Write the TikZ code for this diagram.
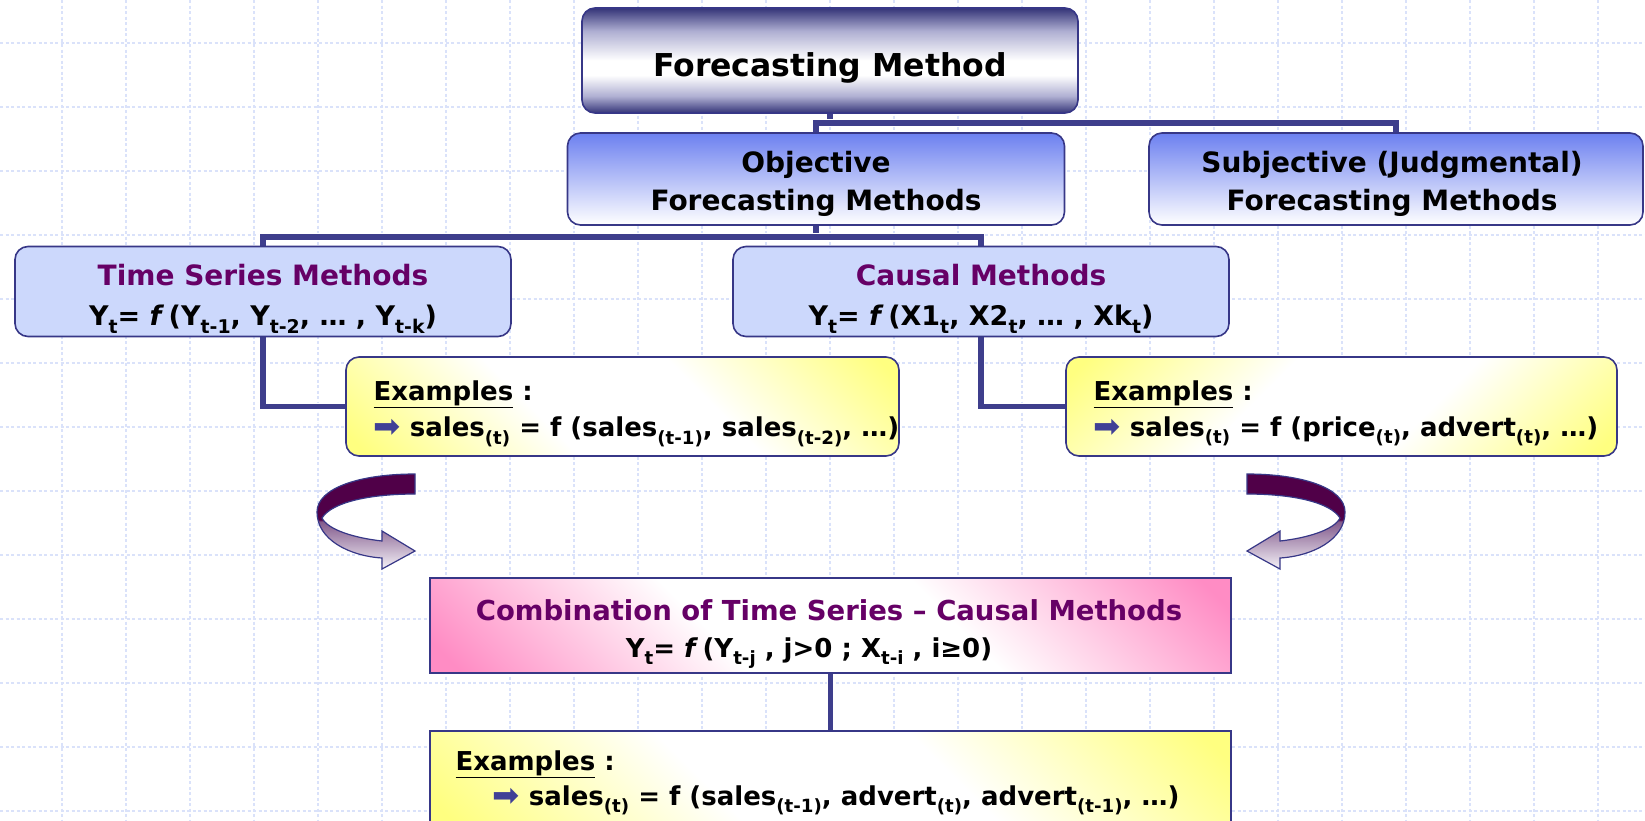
\documentclass[tikz,border=0pt]{standalone}
\usepackage{fontspec}
\usepackage{graphicx}
\setmainfont{DejaVu Sans}
\definecolor{bordercol}{RGB}{55,55,135}
\definecolor{conncol}{RGB}{62,62,140}
\definecolor{fmdark}{RGB}{52,52,120}
\definecolor{fmmid}{RGB}{175,175,210}
\definecolor{objblue}{RGB}{108,128,240}
\definecolor{tsfill}{RGB}{204,216,252}
\definecolor{titlepurple}{RGB}{102,0,102}
\definecolor{yel}{RGB}{255,255,128}
\definecolor{pinkc}{RGB}{255,140,196}
\definecolor{adark}{RGB}{80,0,72}
\definecolor{amid}{RGB}{130,90,140}
\definecolor{alight}{RGB}{245,242,248}
\definecolor{gridcol}{RGB}{218,226,250}
\definecolor{bulcol}{RGB}{64,64,150}
\pgfdeclareverticalshading{fmshade}{100bp}{color(0bp)=(fmdark); color(25bp)=(fmdark); color(33bp)=(fmmid); color(43bp)=(white); color(50bp)=(white); color(64bp)=(fmmid); color(75bp)=(fmdark); color(100bp)=(fmdark)}
\pgfdeclarehorizontalshading{yshade}{100bp}{color(0bp)=(yel); color(17bp)=(yel); color(40bp)=(white); color(60bp)=(white); color(83bp)=(yel); color(100bp)=(yel)}
\pgfdeclarehorizontalshading{pshade}{100bp}{color(0bp)=(pinkc); color(17bp)=(pinkc); color(40bp)=(white); color(60bp)=(white); color(83bp)=(pinkc); color(100bp)=(pinkc)}
\pgfdeclareverticalshading{arrshade}{100bp}{color(0bp)=(alight); color(25bp)=(alight); color(50bp)=(amid); color(51bp)=(adark); color(100bp)=(adark)}
\pgfdeclarelayer{gridlayer}
\pgfdeclarelayer{linelayer}
\pgfsetlayers{gridlayer,linelayer,main}
\newcommand\dn[1]{\raisebox{-0.3em}{\scalebox{0.7}{#1}}}
\newcommand\bul{{\mdseries\color{bulcol}\raisebox{-0.05em}{\scalebox{1.25}{➡}}}}
\newcommand\curvedarrow{%
  (415,474) .. controls (360,474) and (317,488) .. (317,512)
  .. controls (317,540) and (350,556) .. (382,558)
  -- (382,569) -- (415,551) -- (382,531) -- (382,541)
  .. controls (355,538) and (328,530) .. (322,518)
  .. controls (332,502) and (370,494) .. (415,494) -- cycle}
\begin{document}
\begin{tikzpicture}[x=1pt,y=-1pt,
  bx/.style={draw=bordercol, line width=1.6pt, inner sep=0pt},
  rbx/.style={bx, rounded corners=13pt},
  conn/.style={draw=conncol, line width=5.5pt, preaction={draw=white, line width=8pt}},
  gridline/.style={gridcol, line width=1.1pt, dash pattern=on 3pt off 2.5pt},
  big/.style={font=\fontsize{31.5}{36}\selectfont\bfseries},
  mid/.style={font=\fontsize{28}{32}\selectfont\bfseries},
  frm/.style={font=\fontsize{27}{31}\selectfont\bfseries},
  exf/.style={font=\fontsize{26}{30}\selectfont\bfseries},
  ttl/.style={mid, text=titlepurple}]
\useasboundingbox (0,0) rectangle (1645,820);
% background and grid
\begin{pgfonlayer}{gridlayer}
\fill[white] (0,0) rectangle (1645,820);
\foreach \k in {0,...,24} \draw[gridline] (62+64*\k,0) -- (62+64*\k,820);
\foreach \k in {0,...,12} \draw[gridline] (0,43+64*\k) -- (1645,43+64*\k);
\end{pgfonlayer}
% boxes
\node[rbx, shade, shading=fmshade, minimum width=496pt, minimum height=105pt] (fm) at (830,60.5) {};
\node[rbx, top color=objblue, bottom color=white, minimum width=497pt, minimum height=92pt] (obj) at (816,179) {};
\node[rbx, top color=objblue, bottom color=white, minimum width=494pt, minimum height=92pt] (subj) at (1396,179) {};
\node[rbx, fill=tsfill, minimum width=496pt, minimum height=90pt] (ts) at (263,291.5) {};
\node[rbx, fill=tsfill, minimum width=496pt, minimum height=90pt] (causal) at (981,291.5) {};
\node[rbx, shade, shading=yshade, shading angle=45, minimum width=553pt, minimum height=99pt] (ex1) at (622.5,406.5) {};
\node[rbx, shade, shading=yshade, shading angle=-45, minimum width=551pt, minimum height=99pt] (ex2) at (1341.5,406.5) {};
\node[bx, shade, shading=pshade, shading angle=45, minimum width=801pt, minimum height=95pt] (comb) at (830.5,625.5) {};
\node[bx, shade, shading=yshade, shading angle=45, minimum width=801pt, minimum height=100pt] (ex3) at (830.5,781) {};
% connectors
\coordinate (j1) at (830,123);
\coordinate (j2) at (816,237);
\begin{pgfonlayer}{linelayer}
\draw[conn] (fm.south) -- (fm.south |- j1);
\draw[conn] (obj.north) -- (obj.north |- j1) -- (subj.north |- j1) -- (subj.north);
\draw[conn] (obj.south) -- (obj.south |- j2);
\draw[conn] (ts.north) -- (ts.north |- j2) -- (causal.north |- j2) -- (causal.north);
\draw[conn] (ts.south) |- (ex1.west);
\draw[conn] (causal.south) |- (ex2.west);
\draw[conn] (comb.south) -- (ex3.north);
\end{pgfonlayer}
% curved arrows
\shade[shading=arrshade, draw=bordercol, line width=1.2pt] \curvedarrow;
\begin{scope}[shift={(1662,0)}, xscale=-1]
\shade[shading=arrshade, draw=bordercol, line width=1.2pt] \curvedarrow;
\end{scope}
% texts
\node[big, anchor=base] (tfm) at (830,76) {Forecasting Method};
\node[mid, anchor=base] (tobj1) at (816,172.5) {Objective};
\node[mid, anchor=base] (tobj2) at (816,210.5) {Forecasting Methods};
\node[mid, anchor=base] (tsub1) at (1392,172.5) {Subjective (Judgmental)};
\node[mid, anchor=base] (tsub2) at (1392,210.5) {Forecasting Methods};
\node[ttl, anchor=base] (tts1) at (263,285) {Time Series Methods};
\node[frm, anchor=base] (tts2) at (263,325) {Y\dn{t}= \textit{f}\,(Y\dn{t-1}, Y\dn{t-2}, \dots\ , Y\dn{t-k})};
\node[ttl, anchor=base] (tca1) at (981,285) {Causal Methods};
\node[frm, anchor=base] (tca2) at (981,325) {Y\dn{t}= \textit{f}\,(X1\dn{t}, X2\dn{t}, \dots\ , Xk\dn{t})};
\node[exf, anchor=base west] (te11) at (370,400) {\underline{Examples} :};
\node[exf, anchor=base west] (te12) at (370,436.5) {\bul\ sales\dn{(t)} = f (sales\dn{(t-1)}, sales\dn{(t-2)}, \dots)};
\node[exf, anchor=base west] (te21) at (1090,400) {\underline{Examples} :};
\node[exf, anchor=base west] (te22) at (1090,436) {\bul\ sales\dn{(t)} = f (price\dn{(t)}, advert\dn{(t)}, \dots)};
\node[ttl, font=\fontsize{27.5}{31}\selectfont\bfseries, anchor=base] (tco1) at (829,620) {Combination of Time Series – Causal Methods};
\node[exf, anchor=base] (tco2) at (809,657) {Y\dn{t}= \textit{f}\,(Y\dn{t-j} , j>0 ; X\dn{t-i} , i≥0)};
\node[exf, anchor=base west] (te31) at (452,770) {\underline{Examples} :};
\node[exf, anchor=base west] (te32) at (489,805) {\bul\ sales\dn{(t)} = f (sales\dn{(t-1)}, advert\dn{(t)}, advert\dn{(t-1)}, \dots)};
\end{tikzpicture}
\end{document}
